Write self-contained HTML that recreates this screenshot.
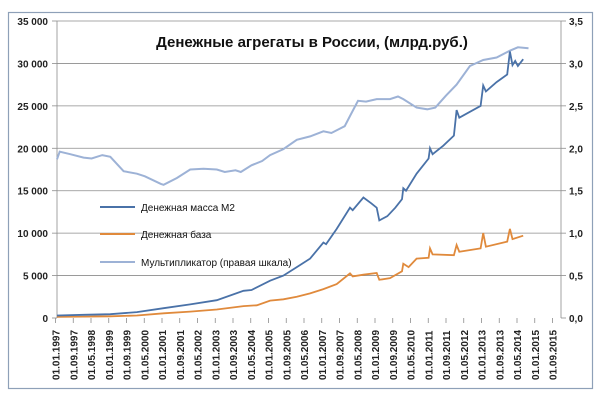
<!DOCTYPE html>
<html><head><meta charset="utf-8"><style>
body{margin:0;background:#fff;}
svg{display:block;font-family:"Liberation Sans",sans-serif;}
</style></head><body>
<svg id="s" width="600" height="400" xmlns="http://www.w3.org/2000/svg">
<rect x="0" y="0" width="600" height="400" fill="#fff"/>
<rect x="8.5" y="12.5" width="584" height="376" fill="#fff" stroke="#8ea0b8" stroke-width="1.2"/>
<g id="grid" stroke="#8c8c8c" stroke-width="0.8"></g>
<g id="ticks" font-size="10" fill="#222" font-weight="bold"></g>
<line x1="57" y1="21" x2="57" y2="318" stroke="#8c8c8c" stroke-width="0.8"/>
<line x1="561" y1="21" x2="561" y2="318" stroke="#8c8c8c" stroke-width="0.8"/>
<text x="312" y="47" text-anchor="middle" font-size="15" font-weight="bold" fill="#111">Денежные агрегаты в России, (млрд.руб.)</text>
<polyline id="mult" fill="none" stroke="#9db2d6" stroke-width="2"/>
<polyline id="base" fill="none" stroke="#e08a3c" stroke-width="1.8"/>
<polyline id="m2" fill="none" stroke="#4a72a8" stroke-width="1.8"/>
<line x1="100" y1="207" x2="135" y2="207" stroke="#4a72a8" stroke-width="2"/>
<line x1="100" y1="234" x2="135" y2="234" stroke="#e08a3c" stroke-width="2"/>
<line x1="100" y1="262" x2="135" y2="262" stroke="#9db2d6" stroke-width="2"/>
<g font-size="10" fill="#111">
<text x="141" y="211">Денежная масса M2</text>
<text x="141" y="238">Денежная база</text>
<text x="141" y="266">Мультипликатор (правая шкала)</text>
</g>
</svg>
<script>
(function(){
var NS="http://www.w3.org/2000/svg";
function el(t,a,p,txt){var e=document.createElementNS(NS,t);for(var k in a)e.setAttribute(k,a[k]);if(txt)e.textContent=txt;document.getElementById(p).appendChild(e);}
var y0=318,ptop=21,h=y0-ptop;
for(var i=0;i<=7;i++){var y=y0-i*h/7;
 if(i>0)el('line',{x1:57,x2:561,y1:y,y2:y},'grid');
 el('line',{x1:52,x2:57,y1:y,y2:y},'grid');el('line',{x1:561,x2:566,y1:y,y2:y},'grid');
 var v=i*5000;var lab=v==0?"0":(v/1000)+" 000";
 el('text',{x:48,y:y+4,'text-anchor':'end'},'ticks',lab);
 el('text',{x:569,y:y+4},'ticks',(i*0.5).toFixed(1).replace('.',','));
}
function X(d){return 57+(d-1997)*12*2.22;}
var yr=1997,mo=1;
for(var i=0;i<29;i++){var x=55.5+17.75*i;
 el('line',{x1:x,x2:x,y1:318,y2:323},'grid');
 var s="01."+(mo<10?"0"+mo:mo)+"."+yr;
 el('text',{x:0,y:0,transform:"translate("+(x+4)+",380) rotate(-90)"},'ticks',s);
 mo+=8;if(mo>12){mo-=12;yr++;}
}
function pts(a,sc){return a.map(function(p){return X(p[0]).toFixed(1)+","+(y0-p[1]*sc).toFixed(1);}).join(" ");}
var m2=[[1997,300],[1998,380],[1999,450],[2000,700],[2001,1150],[2002,1600],[2003,2100],[2004,3200],[2004.3,3300],[2005,4400],[2005.5,5000],[2006,6000],[2006.5,7000],[2007,8900],[2007.1,8700],[2007.5,10500],[2008,13000],[2008.1,12700],[2008.5,14200],[2008.8,13500],[2009,13000],[2009.1,11500],[2009.4,12000],[2009.7,13000],[2009.95,14000],[2010,15300],[2010.1,15000],[2010.5,17000],[2010.95,18800],[2011,20000],[2011.1,19300],[2011.5,20300],[2011.9,21500],[2012,24500],[2012.1,23600],[2012.5,24300],[2012.9,25000],[2013,27400],[2013.1,26700],[2013.5,27800],[2013.9,28700],[2014,31400],[2014.1,29800],[2014.2,30300],[2014.3,29700],[2014.5,30500]];
var base=[[1997,130],[1998,170],[1999,200],[2000,300],[2001,550],[2002,750],[2003,1000],[2004,1400],[2004.5,1500],[2005,2050],[2005.5,2200],[2006,2500],[2006.5,2900],[2007,3400],[2007.5,4000],[2008,5250],[2008.1,4900],[2008.5,5100],[2009,5300],[2009.1,4500],[2009.5,4700],[2009.95,5500],[2010,6400],[2010.2,6000],[2010.5,7000],[2010.95,7100],[2011,8200],[2011.1,7500],[2011.9,7400],[2012,8600],[2012.1,7800],[2012.9,8200],[2013,10000],[2013.1,8400],[2013.9,9000],[2014,10500],[2014.1,9300],[2014.5,9700]];
var mult=[[1997,1.87],[1997.1,1.96],[1997.5,1.93],[1998,1.89],[1998.3,1.88],[1998.7,1.92],[1999,1.90],[1999.5,1.73],[2000,1.70],[2000.3,1.67],[2000.9,1.58],[2001,1.57],[2001.5,1.65],[2002,1.75],[2002.5,1.76],[2003,1.75],[2003.3,1.72],[2003.7,1.74],[2003.9,1.72],[2004.3,1.80],[2004.7,1.85],[2005,1.92],[2005.5,1.99],[2006,2.10],[2006.5,2.14],[2007,2.20],[2007.3,2.18],[2007.8,2.26],[2008,2.38],[2008.3,2.56],[2008.6,2.55],[2009,2.58],[2009.5,2.58],[2009.8,2.61],[2010,2.58],[2010.5,2.48],[2010.9,2.46],[2011.2,2.48],[2011.6,2.62],[2012,2.75],[2012.5,2.97],[2013,3.04],[2013.5,3.07],[2014,3.15],[2014.3,3.19],[2014.7,3.18]];
document.getElementById('m2').setAttribute('points',pts(m2,h/35000));
document.getElementById('base').setAttribute('points',pts(base,h/35000));
document.getElementById('mult').setAttribute('points',pts(mult,h/3.5));
})();
</script>
</body></html>
